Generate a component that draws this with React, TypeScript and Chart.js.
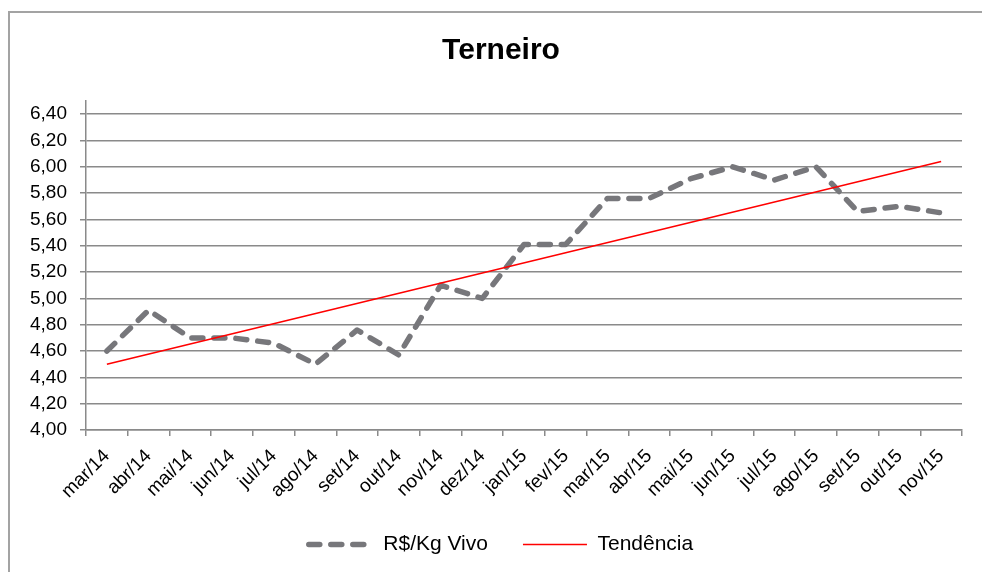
import React, { useEffect, useRef } from "react";
import { Chart, registerables } from "chart.js";

Chart.register(...registerables);

const categories = [
  "mar/14", "abr/14", "mai/14", "jun/14", "jul/14", "ago/14", "set/14", "out/14",
  "nov/14", "dez/14", "jan/15", "fev/15", "mar/15", "abr/15", "mai/15", "jun/15",
  "jul/15", "ago/15", "set/15", "out/15", "nov/15",
];

const precoVivo = [
  4.60, 4.91, 4.70, 4.70, 4.66, 4.50, 4.76, 4.57, 5.10, 5.00, 5.41,
  5.41, 5.76, 5.76, 5.91, 6.00, 5.90, 6.00, 5.66, 5.70, 5.65,
];

// trend line read at its two ends (mar/14 and nov/15)
const tendencia = [
  4.50, null, null, null, null, null, null, null, null, null, null,
  null, null, null, null, null, null, null, null, null, 6.04,
];

const yTicks = [4.0, 4.2, 4.4, 4.6, 4.8, 5.0, 5.2, 5.4, 5.6, 5.8, 6.0, 6.2, 6.4];
const yMin = 4.0;
const yMax = 6.5;

const FONT = "'Liberation Sans', Arial, sans-serif";

export default function App() {
  const ref = useRef<HTMLCanvasElement | null>(null);

  useEffect(() => {
    if (!ref.current) return;
    const chart = new Chart(ref.current, {
      type: "line",
      data: {
        labels: categories,
        datasets: [
          {
            label: "R$/Kg Vivo",
            data: precoVivo,
            borderColor: "#77777b",
            backgroundColor: "#77777b",
            borderWidth: 5.5,
            borderDash: [11, 11],
            borderCapStyle: "round",
            borderJoinStyle: "round",
            pointRadius: 0,
            tension: 0,
            order: 2,
          },
          {
            label: "Tendência",
            data: tendencia,
            borderColor: "#ff0000",
            backgroundColor: "#ff0000",
            borderWidth: 1.6,
            pointRadius: 0,
            spanGaps: true,
            tension: 0,
            order: 1,
          },
        ],
      },
      options: {
        animation: false,
        responsive: false,
        maintainAspectRatio: false,
        layout: { padding: { left: 20, right: 0, top: 0, bottom: 7 } },
        plugins: {
          tooltip: { enabled: false },
          title: {
            display: true,
            text: "Terneiro",
            color: "#000",
            font: { family: FONT, size: 30, weight: "bold", lineHeight: 1.2 },
            padding: { top: 33, bottom: 32 },
          },
          legend: {
            position: "bottom",
            labels: {
              usePointStyle: true,
              pointStyle: "line",
              pointStyleWidth: 64,
              boxHeight: 21,
              padding: 35,
              color: "#000",
              font: { family: FONT, size: 21 },
              sort: (a: any, b: any) => a.datasetIndex - b.datasetIndex,
              generateLabels: (c: any) => {
                const items = Chart.defaults.plugins.legend.labels.generateLabels(c);
                items.forEach((it: any) => {
                  const ds = c.data.datasets[it.datasetIndex];
                  it.lineDash = ds.borderDash || [];
                  it.lineCap = ds.borderCapStyle || "butt";
                  it.lineWidth = ds.borderWidth;
                  it.strokeStyle = ds.borderColor;
                  it.fillStyle = ds.borderColor;
                });
                return items;
              },
            },
          },
        },
        scales: {
          x: {
            type: "category",
            offset: true,
            afterFit: (s: any) => {
              s.height = 69;
            },
            grid: {
              offset: true,
              drawOnChartArea: false,
              drawTicks: true,
              tickLength: 6,
              color: "#8a8a8a",
              lineWidth: 1.5,
            },
            border: { display: true, color: "#8a8a8a", width: 1.5 },
            ticks: {
              minRotation: 45,
              maxRotation: 45,
              autoSkip: false,
              padding: 9,
              color: "#000",
              font: { family: FONT, size: 19 },
            },
          },
          y: {
            min: yMin,
            max: yMax,
            afterFit: (s: any) => {
              s.width = 66;
            },
            afterBuildTicks: (s: any) => {
              s.ticks = yTicks.map((v) => ({ value: v }));
            },
            grid: {
              color: "#8a8a8a",
              lineWidth: 1.5,
              drawTicks: true,
              tickLength: 6,
            },
            border: { display: true, color: "#8a8a8a", width: 1.5 },
            ticks: {
              padding: 13,
              color: "#000",
              font: { family: FONT, size: 19 },
              callback: (v: any) => Number(v).toFixed(2).replace(".", ","),
            },
          },
          yRight: {
            type: "linear",
            position: "right",
            display: true,
            min: yMin,
            max: yMax,
            afterFit: (s: any) => {
              s.width = 20;
            },
            grid: { display: false, drawTicks: false },
            border: { display: false },
            ticks: { display: false },
          },
        },
      },
    });
    return () => chart.destroy();
  }, []);

  return (
    <div style={{ position: "fixed", left: 0, top: 0, width: 982, height: 572, background: "#fff" }}>
      <div
        style={{
          position: "absolute",
          left: 8,
          top: 11,
          width: 1000,
          height: 600,
          borderTop: "2px solid #a3a3a3",
          borderLeft: "2px solid #a3a3a3",
        }}
      />
      <canvas ref={ref} width={982} height={572} style={{ position: "absolute", left: 0, top: 0 }} />
    </div>
  );
}
